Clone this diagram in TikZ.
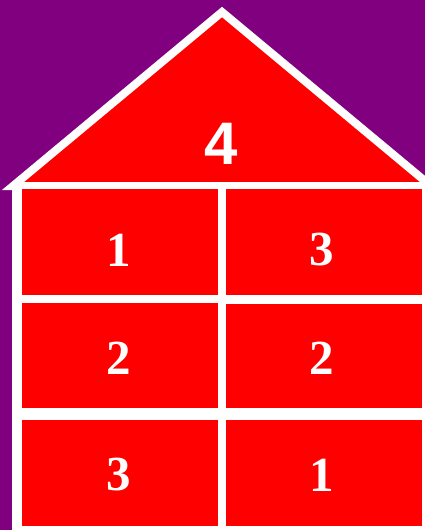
\documentclass[tikz,border=0pt]{standalone}
\usepackage{fontspec}
\setmainfont{Liberation Serif}
\newfontfamily\roofsans{Liberation Sans}
\definecolor{bgpurple}{HTML}{800080}
\definecolor{cellred}{HTML}{FF0000}
\begin{document}
\begin{tikzpicture}[x=1pt,y=-1pt,
  cell/.style={fill=cellred,draw=none},
  num/.style={text=white,inner sep=0pt,font=\fontsize{49}{49}\selectfont\bfseries},
  roofnum/.style={text=white,inner sep=0pt,font=\roofsans\fontsize{60}{60}\selectfont\bfseries}]
\useasboundingbox (0,0) rectangle (425,530);
\fill[bgpurple] (0,0) rectangle (425,530);
% roof
\draw[fill=cellred,draw=white,line width=8pt,line join=miter] (13,186) -- (222,12) -- (431,186) -- cycle;
% frame
\fill[white] (12,182.5) rectangle (425,530);
% cells
\fill[cell] (22,189) rectangle (218,295);
\fill[cell] (226,189) rectangle (422,295);
\fill[cell] (22,303) rectangle (218,408);
\fill[cell] (226,304) rectangle (422,408);
\fill[cell] (22,420) rectangle (218,526);
\fill[cell] (226,420) rectangle (422,526);
% labels
\node[roofnum] (roof) at (221,143.5) {4};
\node[num] (l1) at (118.5,250) {1};
\node[num] (r1) at (322,250) {3};
\node[num] (l2) at (118.5,358) {2};
\node[num] (r2) at (322,358) {2};
\node[num] (l3) at (118.5,475) {3};
\node[num] (r3) at (322,475) {1};
\end{tikzpicture}
\end{document}
